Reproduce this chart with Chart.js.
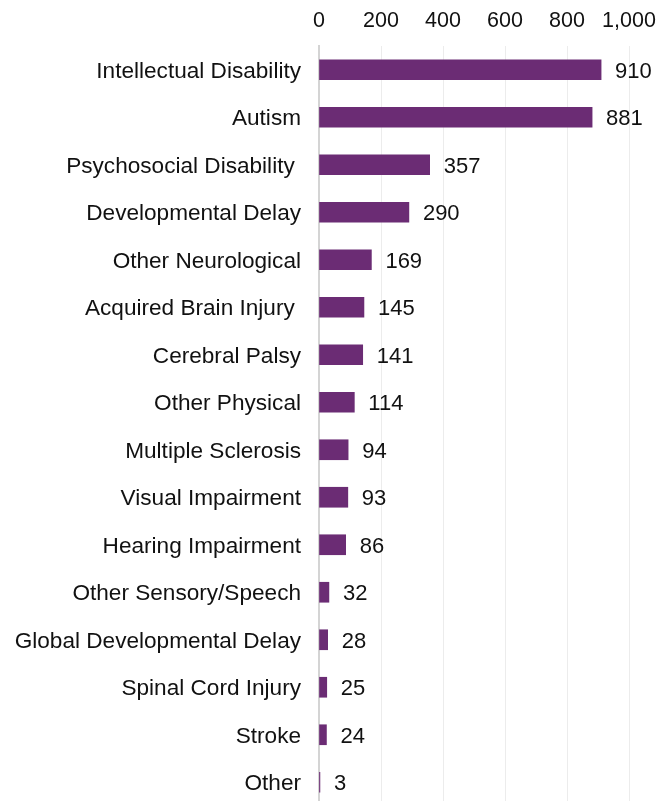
<!DOCTYPE html>
<html>
<head>
<meta charset="utf-8">
<script src="https://cdn.jsdelivr.net/npm/chart.js@4"></script>
<style>
  html, body { margin: 0; padding: 0; background: #fff; overflow: hidden; }
  #wrap { width: 658px; height: 801px; overflow: hidden; }
</style>
</head>
<body>
<div id="wrap"><canvas id="c" width="658" height="806"></canvas></div>
<script>
const categories = [
  "Intellectual Disability", "Autism", "Psychosocial Disability ", "Developmental Delay",
  "Other Neurological", "Acquired Brain Injury ", "Cerebral Palsy", "Other Physical",
  "Multiple Sclerosis", "Visual Impairment", "Hearing Impairment", "Other Sensory/Speech",
  "Global Developmental Delay", "Spinal Cord Injury", "Stroke", "Other",
];
const counts = [910, 881, 357, 290, 169, 145, 141, 114, 94, 93, 86, 32, 28, 25, 24, 3];
const xTicks = [0, 200, 400, 600, 800, 1000];

const FONT = "'Liberation Sans', Arial, sans-serif";
const BAR = "#6b2c74";

// value labels to the right of each bar
const barLabels = {
  id: "barLabels",
  afterDatasetsDraw(chart) {
    const ctx = chart.ctx;
    const meta = chart.getDatasetMeta(0);
    ctx.save();
    ctx.font = "22px " + FONT;
    ctx.fillStyle = "#111";
    ctx.textAlign = "left";
    ctx.textBaseline = "middle";
    meta.data.forEach((bar, i) => {
      ctx.fillText(counts[i].toLocaleString("en-US"), bar.x + 14, bar.y + 2);
    });
    ctx.restore();
  },
};

new Chart(document.getElementById("c"), {
  type: "bar",
  data: {
    labels: categories,
    datasets: [{
      data: counts,
      backgroundColor: BAR,
      barThickness: 20,
    }],
  },
  options: {
    indexAxis: "y",
    responsive: false,
    animation: false,
    layout: { padding: { top: 0, right: 29, bottom: 0, left: 0 } },
    plugins: { legend: { display: false }, tooltip: { enabled: false } },
    scales: {
      x: {
        position: "top",
        min: 0, max: 1000,
        afterBuildTicks: (s) => { s.ticks = xTicks.map(v => ({ value: v })); },
        afterFit: (s) => { s.height = 46; s.paddingLeft = 0; s.paddingRight = 0; },
        grid: { color: "#ececec", lineWidth: 1, drawTicks: false },
        border: { display: false },
        ticks: {
          color: "#111", padding: 12,
          font: { family: FONT, size: 21.5 },
          callback: (v) => Number(v).toLocaleString("en-US"),
        },
      },
      y: {
        afterFit: (s) => { s.width = 319; s.paddingTop = 0; s.paddingBottom = 0; },
        grid: { display: false, drawTicks: false },
        border: { display: true, color: "#d4d4d4", width: 2 },
        ticks: {
          color: "#111", padding: 18, labelOffset: 2,
          font: { family: FONT, size: 22.6 },
        },
      },
    },
  },
  plugins: [barLabels],
});
</script>
</body>
</html>
